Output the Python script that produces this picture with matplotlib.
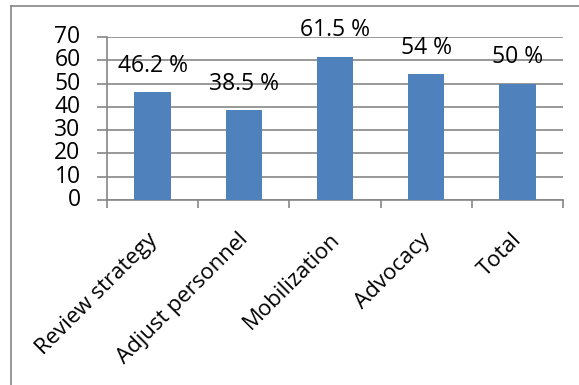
import matplotlib.pyplot as plt
import matplotlib.transforms as mtransforms
from matplotlib.lines import Line2D

categories = ['Review strategy', 'Adjust personnel', 'Mobilization', 'Advocacy', 'Total']
values = [46.2, 38.5, 61.5, 54, 50]
value_labels = ['46.2 %', '38.5 %', '61.5 %', '54 %', '50 %']

plt.rcParams['font.family'] = ['Open Sans', 'DejaVu Sans']

W, H = 579, 385
fig = plt.figure(figsize=(W / 100, H / 100), dpi=100)
fig.patch.set_facecolor('white')

# plot area in pixels: x 107..563, y 37..200 (top-down)
left, right, top, bottom = 107, 563, 37, 200
ax = fig.add_axes([left / W, 1 - bottom / H, (right - left) / W, (bottom - top) / H])

grid_c = '#868686'
x = list(range(len(categories)))
ax.bar(x, values, width=0.4, color='#4f81bd', zorder=3)
ax.set_xlim(-0.5, len(categories) - 0.5)
ax.set_ylim(0, 70)
ax.set_yticks(range(0, 71, 10))
ax.yaxis.grid(True, color=grid_c, linewidth=1.2, zorder=0)

for s in ['top', 'right']:
    ax.spines[s].set_visible(False)
ax.spines['left'].set_color(grid_c)
ax.spines['bottom'].set_color(grid_c)
ax.spines['left'].set_linewidth(1.2)
ax.spines['bottom'].set_linewidth(1.2)

# category boundary ticks on the x axis
ax.set_xticks([i - 0.5 for i in range(len(categories) + 1)], minor=True)
ax.tick_params(axis='x', which='minor', length=6, color=grid_c, width=1.2, direction='out')
ax.tick_params(axis='x', which='major', length=0, pad=21)
ax.tick_params(axis='y', length=7, color=grid_c, width=1.2, labelsize=16.5, pad=12)
for lab in ax.get_yticklabels():
    lab.set_verticalalignment('center')

ax.set_xticks(x)
ax.set_xticklabels(categories, rotation=45, ha='right', va='top',
                   rotation_mode='anchor', fontsize=16)
shift = mtransforms.ScaledTranslation(-6 / 100, 0, fig.dpi_scale_trans)
for lab in ax.get_xticklabels():
    lab.set_transform(lab.get_transform() + shift)

for xi, v, t in zip(x, values, value_labels):
    ax.annotate(t, (xi, v), xytext=(0, 19), textcoords='offset points',
                ha='center', va='center', fontsize=16.5, zorder=5)

# chart frame: top and left edges
fig.add_artist(Line2D([11 / W, 11 / W], [0, 1 - 6 / H], transform=fig.transFigure,
                      color=grid_c, linewidth=1.2))
fig.add_artist(Line2D([11 / W, 1], [1 - 6 / H, 1 - 6 / H], transform=fig.transFigure,
                      color=grid_c, linewidth=1.2))

fig.savefig('out.png', dpi=100)
